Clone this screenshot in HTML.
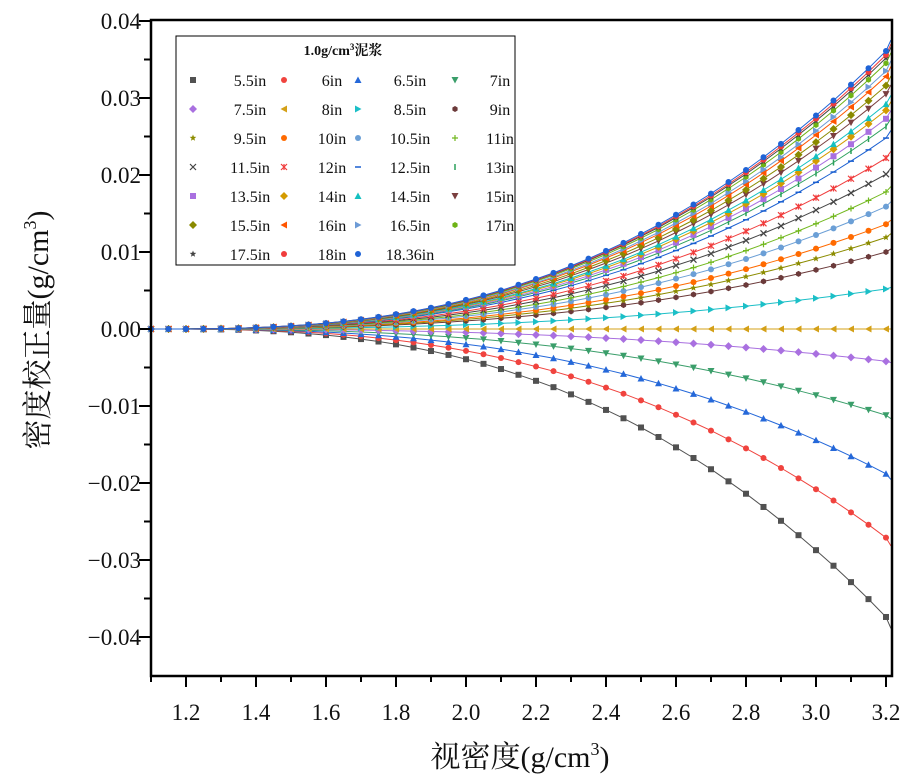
<!DOCTYPE html>
<html><head><meta charset="utf-8"><style>
html,body{margin:0;padding:0;background:#fff;}
svg{display:block;}
text{font-family:"Liberation Serif","Noto Serif CJK SC",serif;fill:#111;}
</style></head><body>
<svg id="chart" width="914" height="783" viewBox="0 0 914 783" xmlns="http://www.w3.org/2000/svg">
<g id="grid"></g>
<g id="series"></g>
<g id="axes"></g>
<g id="legend"></g>
</svg>
<script>
const xValues=[1.1,1.15,1.2,1.25,1.3,1.35,1.4,1.45,1.5,1.55,1.6,1.65,1.7,1.75,1.8,1.85,1.9,1.95,2.0,2.05,2.1,2.15,2.2,2.25,2.3,2.35,2.4,2.45,2.5,2.55,2.6,2.65,2.7,2.75,2.8,2.85,2.9,2.95,3.0,3.05,3.1,3.15,3.2];
const curveShape=[0,0.00003,0.00015,0.0006,0.0015,0.0029,0.0050,0.0078,0.0114,0.0158,0.0212,0.0275,0.0350,0.0435,0.0533,0.0642,0.0765,0.0900,0.105,0.121,0.139,0.159,0.180,0.202,0.227,0.253,0.281,0.310,0.342,0.375,0.411,0.448,0.487,0.529,0.572,0.618,0.666,0.716,0.768,0.822,0.879,0.938,1.0];
const seriesNames=["5.5in","6in","6.5in","7in","7.5in","8in","8.5in","9in","9.5in","10in","10.5in","11in","11.5in","12in","12.5in","13in","13.5in","14in","14.5in","15in","15.5in","16in","16.5in","17in","17.5in","18in","18.36in"];
const endValues=[-0.0374,-0.0271,-0.0188,-0.0112,-0.0042,0,0.0052,0.0100,0.0119,0.0136,0.0159,0.0178,0.0201,0.0222,0.0248,0.0263,0.0273,0.0284,0.0292,0.0305,0.0316,0.0328,0.0335,0.0345,0.0352,0.0356,0.0361];
const seriesColors=["#515151","#f0433e","#2568d9","#3a9e6a","#a970e0","#d4a017","#1bbfc7","#6b3a3a","#8c8c00","#ff6a00","#6b9fd6","#72b81e","#444444","#f03c3c","#1a5fd0","#2aa05a","#a970e0","#d49b00","#14c0c0","#7a3f3f","#8a8a00","#ff5500","#6d9bd6","#6eb316","#444444","#f03c3c","#1f63d6"];
const seriesMarkers=["square","circle","up","down","diamond","left","right","hex","star","circle","circle","plus","x","asterisk","dash","vbar","square","diamond","up","down","diamond","left","right","hex","star","circle","circle"];
const yTicks=[0.04,0.03,0.02,0.01,0,-0.01,-0.02,-0.03,-0.04];
const yTickLabels=["0.04","0.03","0.02","0.01","0.00","\u22120.01","\u22120.02","\u22120.03","\u22120.04"];
const xTicks=[1.2,1.4,1.6,1.8,2.0,2.2,2.4,2.6,2.8,3.0,3.2];
const xTickLabels=["1.2","1.4","1.6","1.8","2.0","2.2","2.4","2.6","2.8","3.0","3.2"];

const NS="http://www.w3.org/2000/svg";
const L=151,R=892,T=20,B=676;
function sx(x){return 186+(x-1.2)*350;}
function sy(v){return 329-v*7700;}
function mk(tag,attrs,parent){const e=document.createElementNS(NS,tag);for(const k in attrs)e.setAttribute(k,attrs[k]);parent.appendChild(e);return e;}

function marker(type,cx,cy,color,parent,s){
  s=s||3;let e;
  if(type==="square")e=mk("rect",{x:cx-s,y:cy-s,width:2*s,height:2*s,fill:color},parent);
  else if(type==="circle")e=mk("circle",{cx:cx,cy:cy,r:s,fill:color},parent);
  else if(type==="up")e=mk("polygon",{points:`${cx},${cy-s-0.5} ${cx-s-0.5},${cy+s} ${cx+s+0.5},${cy+s}`,fill:color},parent);
  else if(type==="down")e=mk("polygon",{points:`${cx},${cy+s+0.5} ${cx-s-0.5},${cy-s} ${cx+s+0.5},${cy-s}`,fill:color},parent);
  else if(type==="left")e=mk("polygon",{points:`${cx-s-0.5},${cy} ${cx+s},${cy-s-0.5} ${cx+s},${cy+s+0.5}`,fill:color},parent);
  else if(type==="right")e=mk("polygon",{points:`${cx+s+0.5},${cy} ${cx-s},${cy-s-0.5} ${cx-s},${cy+s+0.5}`,fill:color},parent);
  else if(type==="diamond")e=mk("polygon",{points:`${cx},${cy-s-1} ${cx+s+1},${cy} ${cx},${cy+s+1} ${cx-s-1},${cy}`,fill:color},parent);
  else if(type==="hex"){let p=[];for(let i=0;i<6;i++){const a=Math.PI/3*i+Math.PI/6;p.push((cx+s*Math.cos(a)).toFixed(1)+","+(cy+s*Math.sin(a)).toFixed(1));}e=mk("polygon",{points:p.join(" "),fill:color},parent);}
  else if(type==="star"){let p=[];for(let i=0;i<10;i++){const r=i%2?s*0.5:s+0.5;const a=-Math.PI/2+Math.PI/5*i;p.push((cx+r*Math.cos(a)).toFixed(1)+","+(cy+r*Math.sin(a)).toFixed(1));}e=mk("polygon",{points:p.join(" "),fill:color},parent);}
  else if(type==="plus")e=mk("path",{d:`M${cx-s},${cy}H${cx+s}M${cx},${cy-s}V${cy+s}`,stroke:color,"stroke-width":1.2,fill:"none"},parent);
  else if(type==="x")e=mk("path",{d:`M${cx-s},${cy-s}L${cx+s},${cy+s}M${cx-s},${cy+s}L${cx+s},${cy-s}`,stroke:color,"stroke-width":1.2,fill:"none"},parent);
  else if(type==="asterisk")e=mk("path",{d:`M${cx-s},${cy-s}L${cx+s},${cy+s}M${cx-s},${cy+s}L${cx+s},${cy-s}M${cx},${cy-s}V${cy+s}`,stroke:color,"stroke-width":1.2,fill:"none"},parent);
  else if(type==="dash")e=mk("path",{d:`M${cx-s},${cy}H${cx+s}`,stroke:color,"stroke-width":1.5,fill:"none"},parent);
  else e=mk("path",{d:`M${cx},${cy-s}V${cy+s}`,stroke:color,"stroke-width":1.5,fill:"none"},parent);
  return e;
}

const gS=document.getElementById("series");
seriesNames.forEach((name,si)=>{
  const g=mk("g",{},gS);
  
  
  const end=endValues[si];
  const pts=xValues.map((x,i)=>[sx(x),sy(curveShape[i]*end)]);
  const line=mk("polyline",{points:pts.map(p=>p[0].toFixed(1)+","+p[1].toFixed(1)).join(" ")+" "+(R-1)+","+sy(end*1.04).toFixed(1),fill:"none",stroke:seriesColors[si],"stroke-width":1},g);
  
  
  pts.forEach(p=>{
    const m=marker(seriesMarkers[si],p[0],p[1],seriesColors[si],g,3);
    
    
  });
});

const gA=document.getElementById("axes");
const frame=mk("rect",{x:L,y:T,width:R-L,height:B-T,fill:"none",stroke:"#000","stroke-width":2.5},gA);


for(let v=-0.04;v<=0.0401;v+=0.005){
  const y=sy(v);const major=Math.abs(Math.round(v*200))%2===0;
  mk("line",{x1:L,x2:L-(major?12:7),y1:y,y2:y,stroke:"#000","stroke-width":2},gA);
}
yTicks.forEach((v,i)=>{
  const t=mk("text",{x:141,y:sy(v)+8,"text-anchor":"end","font-size":23},gA);
  t.textContent=yTickLabels[i];
  
  
});
for(let k=0;k<=21;k++){
  const x=1.1+k*0.1;const major=k%2===1;
  mk("line",{x1:sx(x),x2:sx(x),y1:B,y2:B+(major?11:6),stroke:"#000","stroke-width":2},gA);
}
xTicks.forEach((v,i)=>{
  const t=mk("text",{x:sx(v),y:720,"text-anchor":"middle","font-size":23},gA);
  t.textContent=xTickLabels[i];
  
  
});
</script>
<svg style="position:absolute;left:0;top:0" width="914" height="783">
<text x="520" y="767" text-anchor="middle" font-size="30" font-family="Liberation Serif, Noto Serif CJK SC, serif">视密度(g/cm<tspan font-size="18" dy="-12">3</tspan><tspan dy="12">)</tspan></text>
<text transform="translate(48,330) rotate(-90)" text-anchor="middle" font-size="30" font-family="Liberation Serif, Noto Serif CJK SC, serif">密度校正量(g/cm<tspan font-size="18" dy="-12">3</tspan><tspan dy="12">)</tspan></text>
<g id="legend2">
<rect x="176" y="36" width="339" height="229" fill="#fff" stroke="#000" stroke-width="1"/>
<text x="343" y="55" text-anchor="middle" font-size="14" font-weight="bold" font-family="Liberation Serif, Noto Serif CJK SC, serif">1.0g/cm<tspan font-size="9" dy="-5">3</tspan><tspan dy="5">泥浆</tspan></text>
</g>
</svg>
<script>
(function(){
const g=document.getElementById("legend2");
const colMarkerX=[193,284,358,455];
const colTextX=[250,332,410,500];
seriesNames.forEach((name,i)=>{
  const r=Math.floor(i/4),c=i%4;
  const y=80+r*29;
  const m=marker(seriesMarkers[i],colMarkerX[c],y,seriesColors[i],g,3);
  
  
  const t=mk("text",{x:colTextX[c],y:y+6,"text-anchor":"middle","font-size":16,"font-family":"Liberation Mono, monospace"},g);
  t.textContent=name;
  
  
});
})();
</script>
<style>body{position:relative;}</style>
</body></html>
